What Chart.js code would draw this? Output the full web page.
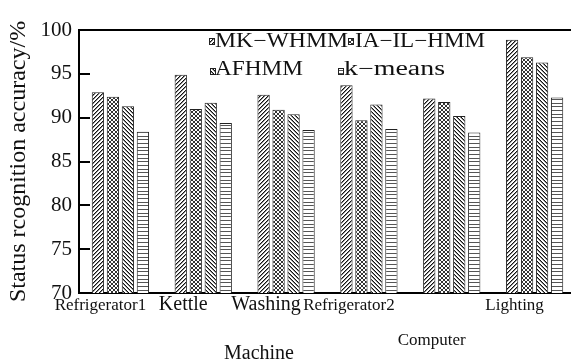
<!DOCTYPE html>
<html>
<head>
<meta charset="utf-8">
<script src="https://cdn.jsdelivr.net/npm/chart.js@4.4.1/dist/chart.umd.min.js"></script>
<style>
  html, body { margin: 0; padding: 0; background: #fff; overflow: hidden; }
  #wrap { width: 576px; height: 362px; }
</style>
</head>
<body>
<div id="wrap"><canvas id="c"></canvas></div>
<script>
  const categories = ['Refrigerator1', 'Kettle', 'Washing', 'Refrigerator2', 'Computer', 'Lighting'];
  const seriesNames = ['MK\u2212WHMM', 'IA\u2212IL\u2212HMM', 'AFHMM', 'k\u2212means'];
  const mkWhmm  = [92.9, 94.9, 92.6, 93.7, 92.2, 98.9];
  const iaIlHmm = [92.4, 91.0, 90.9, 89.7, 91.8, 96.9];
  const afhmm   = [91.3, 91.7, 90.4, 91.5, 90.2, 96.3];
  const kMeans  = [88.4, 89.4, 88.6, 88.7, 88.3, 92.3];
  const yTicks  = [70, 75, 80, 85, 90, 95, 100];

  const SERIF = '"Liberation Serif", "Times New Roman", serif';

  // hatch fills, built from tiny tiles: [x, y, colour]
  function tile(w, h, px) {
    const c = document.createElement('canvas');
    c.width = w; c.height = h;
    const g = c.getContext('2d');
    g.fillStyle = '#fff'; g.fillRect(0, 0, w, h);
    px.forEach(p => { g.fillStyle = p[2]; g.fillRect(p[0], p[1], 1, 1); });
    return g.createPattern(c, 'repeat');
  }
  function hline(w, rows, h, color) {
    const c = document.createElement('canvas');
    c.width = w; c.height = h;
    const g = c.getContext('2d');
    g.fillStyle = '#fff'; g.fillRect(0, 0, w, h);
    g.fillStyle = color;
    rows.forEach(r => g.fillRect(0, r, w, 1));
    return g.createPattern(c, 'repeat');
  }
  const fwd = [], back = [], cross = [];
  for (let i = 0; i < 4; i++) {
    fwd.push([i, 3 - i, '#111']);  fwd.push([i, (4 - i) % 4, '#8a8a8a']);
    back.push([i, i, '#111']);     back.push([i, (i + 1) % 4, '#8a8a8a']);
    cross.push([i, i, '#333']);    cross.push([i, 3 - i, '#333']);
  }
  const fills = [
    tile(4, 4, fwd),
    tile(4, 4, cross),
    tile(4, 4, back),
    hline(4, [0, 4, 7], 11, '#555')
  ];

  const values = [mkWhmm, iaIlHmm, afhmm, kMeans];

  // legend boxes sit inside the plot, 2 rows
  const legendSlots = [
    { bx: 209, by: 38, tx: 215, base: 47, w: 133 },
    { bx: 348, by: 38, tx: 355, base: 47, w: 130 },
    { bx: 210, by: 68, tx: 215, base: 75, w: 88 },
    { bx: 338, by: 68, tx: 344, base: 75, w: 101 }
  ];

  function stretchText(ctx, str, x, y, w, size) {
    ctx.font = size + 'px ' + SERIF;
    const mw = ctx.measureText(str).width;
    ctx.save();
    ctx.translate(x, y);
    ctx.scale(w ? w / mw : 1, 1);
    ctx.fillText(str, 0, 0);
    ctx.restore();
  }

  const framePlugin = {
    id: 'frame',
    afterDraw(chart) {
      const ctx = chart.ctx;
      const area = chart.chartArea;
      const ys = chart.scales.y;
      ctx.save();
      ctx.strokeStyle = '#000';
      ctx.lineWidth = 2;
      ctx.beginPath();
      ctx.moveTo(area.left - 1, area.top);
      ctx.lineTo(chart.width, area.top);
      ys.ticks.forEach(t => {
        if (t.value <= ys.min || t.value >= ys.max) return;
        const py = Math.round(ys.getPixelForValue(t.value));
        ctx.moveTo(area.left, py);
        ctx.lineTo(area.left + 11, py);
      });
      ctx.stroke();

      ctx.textBaseline = 'alphabetic';
      ctx.textAlign = 'left';
      chart.data.datasets.forEach((ds, i) => {
        const s = legendSlots[i];
        ctx.fillStyle = ds.backgroundColor;
        ctx.fillRect(s.bx, s.by, 5, 6);
        ctx.lineWidth = 1;
        ctx.strokeStyle = '#222';
        ctx.strokeRect(s.bx + 0.5, s.by + 0.5, 5, 6);
        ctx.fillStyle = '#111';
        stretchText(ctx, ds.label, s.tx, s.base, s.w, 20);
      });

      // x axis title
      ctx.textAlign = 'center';
      stretchText(ctx, 'Machine', 259, 359, 0, 20);
      ctx.restore();
    }
  };

  const bigLabels = [1, 2];

  new Chart(document.getElementById('c'), {
    type: 'bar',
    data: {
      labels: categories,
      datasets: seriesNames.map((name, i) => ({
        label: name,
        data: values[i],
        backgroundColor: fills[i],
        borderColor: '#222',
        borderWidth: 1,
        categoryPercentage: 0.724,
        barPercentage: 0.82
      }))
    },
    options: {
      responsive: true,
      maintainAspectRatio: false,
      animation: false,
      layout: { padding: { top: 30, right: 0, bottom: 0, left: 0 } },
      plugins: {
        legend: { display: false },
        tooltip: { enabled: false }
      },
      scales: {
        x: {
          grid: { display: false, drawTicks: false },
          border: { display: true, color: '#000', width: 2 },
          ticks: {
            color: '#111',
            padding: 2,
            labelOffset: -20,
            maxRotation: 0,
            autoSkip: false,
            font: (c) => ({
              family: SERIF,
              size: bigLabels.includes(c.index) ? 20 : 17,
              lineHeight: c.index === 4 ? 5.3 : (bigLabels.includes(c.index) ? 1.0 : 1.2)
            })
          },
          afterFit: (s) => { s.height = 69; }
        },
        y: {
          min: 70,
          max: 100,
          afterBuildTicks: (s) => { s.ticks = yTicks.map(v => ({ value: v })); },
          grid: { display: false, drawTicks: false },
          border: { display: true, color: '#000', width: 2 },
          ticks: {
            color: '#111',
            padding: 7,
            font: { family: SERIF, size: 21 }
          },
          title: {
            display: true,
            text: 'Status rcognition accuracy/%',
            color: '#111',
            font: { family: SERIF, size: 24, lineHeight: 1 },
            padding: { top: 7, bottom: 0 }
          },
          afterFit: (s) => { s.width = 79; }
        }
      }
    },
    plugins: [framePlugin]
  });
</script>
</body>
</html>
